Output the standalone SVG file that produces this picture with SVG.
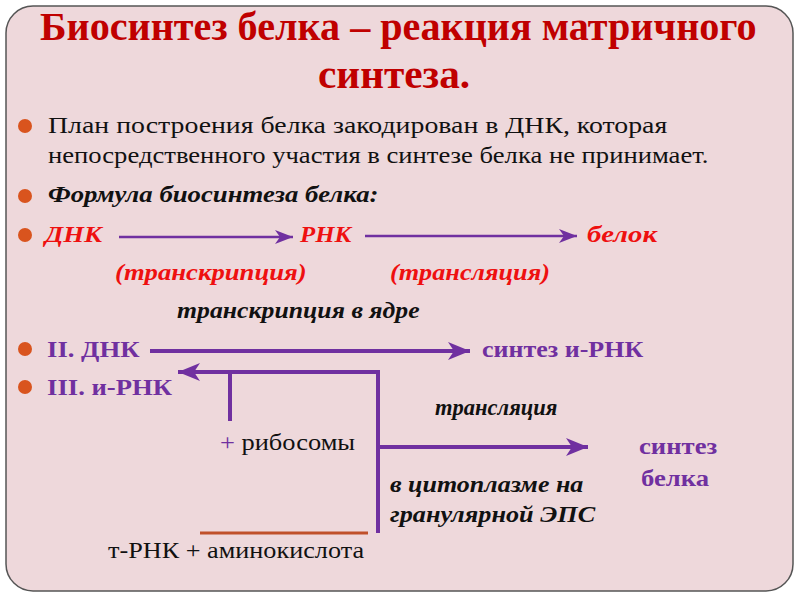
<svg xmlns="http://www.w3.org/2000/svg" width="800" height="600" viewBox="0 0 800 600">
<style>
.title{font-family:'Liberation Serif';font-size:39px;font-weight:bold;fill:#c00000;}
.body{font-family:'Liberation Serif';font-size:23px;fill:#111;}
.bi{font-family:'Liberation Serif';font-size:23px;font-weight:bold;font-style:italic;fill:#111;}
.red{font-family:'Liberation Serif';font-size:23px;font-weight:bold;font-style:italic;fill:#ee1010;}
.pb{font-family:'Liberation Serif';font-size:23px;font-weight:bold;fill:#7030a0;}
.bullet{fill:#d9541e;}
.thin{stroke:#7030a0;stroke-width:2.5;fill:none;}
.thick{stroke:#7030a0;stroke-width:4;fill:none;}
</style>
<defs>
<marker id="ah1" markerUnits="userSpaceOnUse" markerWidth="20" markerHeight="14" refX="18" refY="7" orient="auto">
<path d="M0,0 L18,7 L0,14 L5,7 z" fill="#7030a0"/>
</marker>
<marker id="ah2" markerUnits="userSpaceOnUse" markerWidth="24" markerHeight="18" refX="22" refY="9" orient="auto">
<path d="M0,0 L22,9 L0,18 L6,9 z" fill="#7030a0"/>
</marker>
</defs>
<rect x="6" y="6" width="787" height="585" rx="27" ry="27" fill="#eed8db" stroke="#555" stroke-width="1.5"/>
<g id="title">
<text class="title" transform="translate(40,40) scale(1.03,1)">Биосинтез белка – реакция матричного</text>
<text class="title" transform="translate(318,88) scale(1.06,1)">синтеза.</text>
</g>
<g id="bullets">
<circle class="bullet" cx="25" cy="126" r="7"/>
<circle class="bullet" cx="25" cy="196" r="7"/>
<circle class="bullet" cx="25" cy="235" r="7"/>
<circle class="bullet" cx="25" cy="349" r="7"/>
<circle class="bullet" cx="25" cy="387" r="7"/>
</g>
<g id="intro">
<text class="body" transform="translate(48,133) scale(1.21,1)">План построения белка закодирован в ДНК, которая</text>
<text class="body" transform="translate(48,163) scale(1.158,1)">непосредственного участия в синтезе белка не принимает.</text>
<text class="bi" transform="translate(48,202) scale(1.163,1)">Формула биосинтеза белка:</text>
</g>
<g id="node-dnk"><text class="red" transform="translate(45,242) scale(1.16,1)">ДНК</text></g>
<g id="node-rnk"><text class="red" transform="translate(300,242) scale(1.08,1)">РНК</text></g>
<g id="node-belok"><text class="red" transform="translate(587,242) scale(1.25,1)">белок</text></g>
<g id="label-transkr"><text class="red" transform="translate(115,280) scale(1.16,1)">(транскрипция)</text></g>
<g id="label-transl"><text class="red" transform="translate(390,280) scale(1.14,1)">(трансляция)</text></g>
<g id="label-yadro"><text class="bi" transform="translate(177,318) scale(1.12,1)">транскрипция в ядре</text></g>
<g id="node-ii"><text class="pb" transform="translate(47,357) scale(1.16,1)">II. ДНК</text></g>
<g id="node-sintez-irnk"><text class="pb" transform="translate(482,357) scale(1.13,1)">синтез и-РНК</text></g>
<g id="node-iii"><text class="pb" transform="translate(47,395) scale(1.16,1)">III. и-РНК</text></g>
<g id="label-translyaciya"><text class="bi" transform="translate(435,415) scale(0.98,1)">трансляция</text></g>
<g id="label-ribosomy"><text class="body" transform="translate(220,450) scale(1.15,1)"><tspan fill="#7030a0">+</tspan> рибосомы</text></g>
<g id="node-sintez-belka">
<text class="pb" transform="translate(639,454) scale(1.16,1)">синтез</text>
<text class="pb" transform="translate(641,486) scale(1.16,1)">белка</text>
</g>
<g id="label-cyto">
<text class="bi" transform="translate(390,492) scale(1.13,1)">в цитоплазме на</text>
<text class="bi" transform="translate(390,522) scale(1.14,1)">гранулярной ЭПС</text>
</g>
<g id="label-trnk"><text class="body" transform="translate(108,558) scale(1.14,1)">т-РНК + аминокислота</text></g>
<g id="connectors">
<line class="thin" x1="119" y1="237" x2="293" y2="237" marker-end="url(#ah1)"/>
<line class="thin" x1="365" y1="236" x2="577" y2="236" marker-end="url(#ah1)"/>
<line class="thick" x1="150" y1="351" x2="470" y2="351" marker-end="url(#ah2)"/>
<polyline class="thick" points="378,533 378,372 178,372" marker-end="url(#ah2)"/>
<line class="thick" x1="230" y1="372" x2="230" y2="421"/>
<line class="thick" x1="378" y1="447" x2="588" y2="447" marker-end="url(#ah2)"/>
<line x1="200" y1="533" x2="368" y2="533" stroke="#c0502a" stroke-width="3"/>
</g>
</svg>
